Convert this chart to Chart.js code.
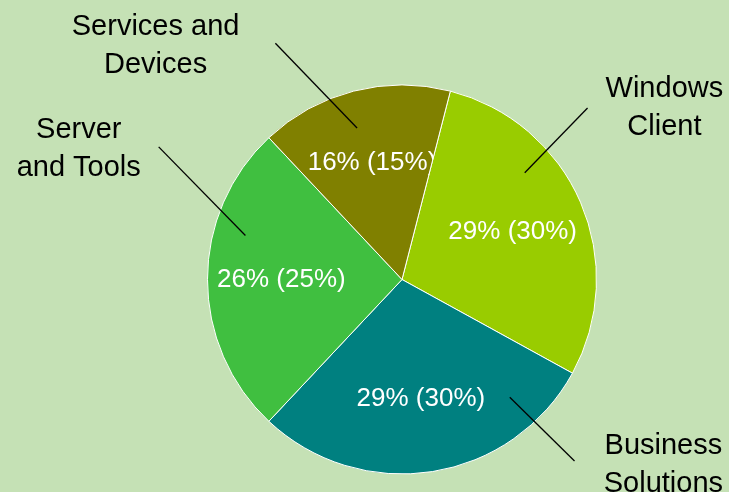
<!DOCTYPE html>
<html>
<head>
<meta charset="utf-8">
<script src="https://cdn.jsdelivr.net/npm/chart.js@4/dist/chart.umd.min.js"></script>
<style>
  html, body { margin: 0; padding: 0; background: #c5e1b5; }
  #wrap { width: 729px; height: 492px; position: relative; }
</style>
</head>
<body>
<div id="wrap"><canvas id="segmentChart"></canvas></div>
<script>
// segment revenue share, current year and (prior year)
const segments = ['Windows Client', 'Business Solutions', 'Server and Tools', 'Services and Devices'];
const sharePct = [29, 29, 26, 16];
const priorPct = [30, 30, 25, 15];
const sliceColors = ['#99cc00', '#008080', '#40bf40', '#808000'];

// callout layout in pie-radius units, relative to the pie centre
// lineIn/lineOut = leader line ends, text = centre x and first baseline
const callouts = [
    { lines: ['Windows', 'Client'],      lineIn: [0.631, -0.549], lineOut: [0.954, -0.882], text: [1.349, -0.940] },
    { lines: ['Business', 'Solutions'],  lineIn: [0.554, 0.605],  lineOut: [0.887, 0.933],  text: [1.344, 0.897] },
    { lines: ['Server', 'and Tools'],    lineIn: [-0.805, -0.226], lineOut: [-1.251, -0.682], text: [-1.662, -0.728] },
    { lines: ['Services and', 'Devices'], lineIn: [-0.231, -0.779], lineOut: [-0.651, -1.215], text: [-1.267, -1.256] }
];

const FONT = '"Liberation Sans", Arial, sans-serif';

const calloutPlugin = {
    id: 'callouts',
    afterDatasetsDraw(chart) {
        const ctx = chart.ctx;
        const meta = chart.getDatasetMeta(0);

        meta.data.forEach((arc, i) => {
            const cx = arc.x, cy = arc.y, r = arc.outerRadius;
            const mid = (arc.startAngle + arc.endAngle) / 2;

            // percentage label, clipped to its own slice
            ctx.save();
            ctx.beginPath();
            ctx.moveTo(cx, cy);
            ctx.arc(cx, cy, r, arc.startAngle, arc.endAngle);
            ctx.closePath();
            ctx.clip();
            ctx.fillStyle = '#ffffff';
            ctx.font = '26px ' + FONT;
            ctx.textAlign = 'center';
            ctx.textBaseline = 'middle';
            ctx.fillText(sharePct[i] + '% (' + priorPct[i] + '%)', cx + Math.cos(mid) * r * 0.62, cy + Math.sin(mid) * r * 0.62);
            ctx.restore();

            // leader line and segment name
            const c = callouts[i];
            ctx.save();
            ctx.strokeStyle = '#000000';
            ctx.lineWidth = 1.3;
            ctx.beginPath();
            ctx.moveTo(cx + c.lineIn[0] * r, cy + c.lineIn[1] * r);
            ctx.lineTo(cx + c.lineOut[0] * r, cy + c.lineOut[1] * r);
            ctx.stroke();

            ctx.fillStyle = '#000000';
            ctx.font = '29px ' + FONT;
            ctx.textAlign = 'center';
            ctx.textBaseline = 'alphabetic';
            c.lines.forEach((t, k) => {
                ctx.fillText(t, cx + c.text[0] * r, cy + c.text[1] * r + k * 38);
            });
            ctx.restore();
        });
    }
};

new Chart(document.getElementById('segmentChart'), {
    type: 'pie',
    data: {
        labels: segments,
        datasets: [{
            data: sharePct,
            backgroundColor: sliceColors,
            borderColor: '#ffffff',
            borderWidth: 1
        }]
    },
    options: {
        responsive: true,
        maintainAspectRatio: false,
        animation: false,
        rotation: 14.4,
        layout: { padding: { left: 207, right: 132, top: 84, bottom: 17 } },
        plugins: {
            legend: { display: false },
            tooltip: { enabled: false }
        }
    },
    plugins: [calloutPlugin]
});
</script>
</body>
</html>
